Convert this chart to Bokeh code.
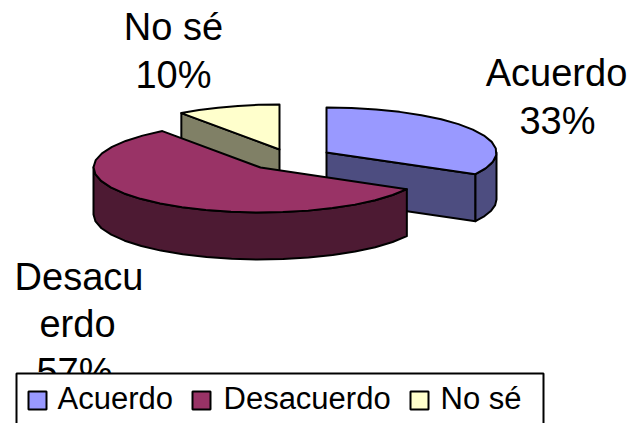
import math
from bokeh.plotting import figure
from bokeh.models import Range1d
from bokeh.core.properties import value
from bokeh.embed import file_html
from bokeh.resources import INLINE

categories = ["Acuerdo", "Desacuerdo", "No sé"]
values = [33, 57, 10]
top_colors = ["#9999FF", "#993366", "#FFFFCC"]
side_colors = ["#4D4D80", "#4D1A33", "#808066"]
label_lines = [["Acuerdo", "33%"], ["Desacu", "erdo", "57%"], ["No sé", "10%"]]
label_x = [[556, 557], [78.5, 77, 74], [173, 173]]
label_baselines = [[87, 135], [291, 338, 386], [41, 89]]

# layout: page pixel coordinates of each slice's apex, and projected ellipse
centers = [(326, 152), (260, 167), (279, 149)]
radii_x = [170, 167, 167]
RY, DEPTH, STEP = 45, 47, 9
FONT = "Liberation Sans"
legend_box = (16, 373, 543, 440)
legend_swatch_x = [28, 192, 410]
legend_text_x = [57, 223, 440]

p = figure(width=634, height=423, output_backend="svg", toolbar_location=None,
           x_range=Range1d(0, 634), y_range=Range1d(423, 0),
           min_border=0, outline_line_color=None, background_fill_color="white")
p.axis.visible = False
p.grid.visible = False

def arc(c, rx, a0, a1):
    n = max(2, int(abs(a1 - a0) / STEP) + 1)
    out = []
    for i in range(n + 1):
        t = math.radians(a0 + (a1 - a0) * i / n)
        out.append((c[0] + rx * math.sin(t), c[1] - RY * math.cos(t)))
    return out

def poly(pts, color):
    return p.patch([q[0] for q in pts], [q[1] for q in pts], fill_color=color,
                   line_color="black", line_width=2, line_join="round")

def drop(pts):
    return [(x, y + DEPTH) for x, y in pts]

total = sum(values)
spans, a = [], 0.0
for v in values:
    spans.append((a, a + 360 * v / total))
    a += 360 * v / total

for i in [2, 0, 1]:
    s, e = spans[i]
    c, rx = centers[i], radii_x[i]
    for ang, vis in ((s, math.sin(math.radians(s)) < -1e-6), (e, math.sin(math.radians(e)) > 1e-6)):
        if vis:
            edge = [c, arc(c, rx, ang, ang)[0]]
            poly(edge + drop(edge)[::-1], side_colors[i])
    r0, r1 = max(s, 90), min(e, 270)
    if r1 > r0:
        rim = arc(c, rx, r0, r1)
        poly(rim + drop(rim)[::-1], side_colors[i])
    poly([c] + arc(c, rx, s, e), top_colors[i])

for lines, xs, ys in zip(label_lines, label_x, label_baselines):
    for t, x, y in zip(lines, xs, ys):
        p.text([x], [y], text=[t], text_font=value(FONT), text_font_size="38px", y_offset=-15,
               text_align="center", text_baseline="alphabetic", text_color="black")

l, t, r, b = legend_box
p.quad(left=[l], right=[r], top=[t], bottom=[b], fill_color="white", line_color="black", line_width=2)
for name, col, sx, tx in zip(categories, top_colors, legend_swatch_x, legend_text_x):
    p.quad(left=[sx], right=[sx + 18], top=[391], bottom=[409], fill_color=col,
           line_color="black", line_width=2)
    p.text([tx], [410], text=[name], text_font=value(FONT), text_font_size="31px", y_offset=-12,
           text_align="left", text_baseline="alphabetic", text_color="black")

open("out.html", "w").write(file_html(p, INLINE))
